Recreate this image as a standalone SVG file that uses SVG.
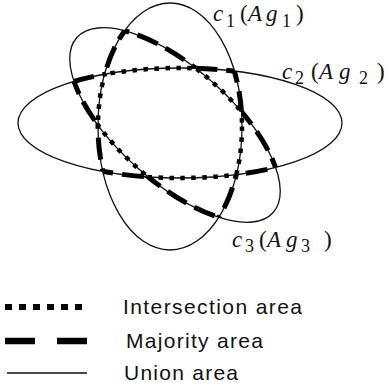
<svg xmlns="http://www.w3.org/2000/svg" width="391" height="387" viewBox="0 0 391 387">
<style>
.u{fill:none;stroke:#111;stroke-width:1.3}
.m{fill:none;stroke:#000;stroke-width:5;stroke-dasharray:22 9}
.i{fill:none;stroke:#000;stroke-width:4.5;stroke-dasharray:4.5 6.5}
.lab{font-family:"Liberation Serif","Times New Roman",serif;font-size:23px;fill:#111}
.it{font-style:italic}
.sub{font-size:18px}
.leg{font-family:"Liberation Sans",Arial,sans-serif;font-size:21px;fill:#111}
</style>
<defs>
<ellipse id="e1" cx="170" cy="126.5" rx="72" ry="123.5"/>
<ellipse id="e2" cx="180" cy="123" rx="162" ry="55"/>
<ellipse id="e3" cx="175" cy="125" rx="131.5" ry="57" transform="rotate(41.7 175 125)"/>
<clipPath id="c1"><use href="#e1"/></clipPath>
<clipPath id="c2"><use href="#e2"/></clipPath>
<clipPath id="c3"><use href="#e3"/></clipPath>
<mask id="x23" maskUnits="userSpaceOnUse" x="0" y="0" width="391" height="387">
<use href="#e2" fill="#fff"/><use href="#e3" fill="#fff"/>
<g clip-path="url(#c3)"><use href="#e2" fill="#000"/></g>
</mask>
<mask id="x13" maskUnits="userSpaceOnUse" x="0" y="0" width="391" height="387">
<use href="#e1" fill="#fff"/><use href="#e3" fill="#fff"/>
<g clip-path="url(#c3)"><use href="#e1" fill="#000"/></g>
</mask>
<mask id="x12" maskUnits="userSpaceOnUse" x="0" y="0" width="391" height="387">
<use href="#e1" fill="#fff"/><use href="#e2" fill="#fff"/>
<g clip-path="url(#c2)"><use href="#e1" fill="#000"/></g>
</mask>
</defs>
<g id="union">
<use href="#e1" class="u"/>
<use href="#e2" class="u"/>
<use href="#e3" class="u"/>
</g>
<g id="majority">
<g mask="url(#x23)"><use href="#e1" class="m"/></g>
<g mask="url(#x13)"><use href="#e2" class="m"/></g>
<g mask="url(#x12)"><use href="#e3" class="m"/></g>
</g>
<g id="intersection">
<g clip-path="url(#c2)"><g clip-path="url(#c3)"><use href="#e1" class="i"/></g></g>
<g clip-path="url(#c1)"><g clip-path="url(#c3)"><use href="#e2" class="i"/></g></g>
<g clip-path="url(#c1)"><g clip-path="url(#c2)"><use href="#e3" class="i"/></g></g>
</g>
<g id="labels">
<text class="lab" y="21"><tspan x="213" class="it">c</tspan><tspan x="226" y="27" class="sub">1</tspan><tspan x="240" y="21">(</tspan><tspan x="248" class="it">A</tspan><tspan x="266" class="it">g</tspan><tspan x="282" y="27" class="sub">1</tspan><tspan x="296" y="21">)</tspan></text>
<text class="lab" y="79"><tspan x="282" class="it">c</tspan><tspan x="295" y="84" class="sub">2</tspan><tspan x="311" y="79">(</tspan><tspan x="319" class="it">A</tspan><tspan x="339" class="it">g</tspan><tspan x="359" y="84" class="sub">2</tspan><tspan x="377" y="79">)</tspan></text>
<text class="lab" y="247"><tspan x="232" class="it">c</tspan><tspan x="245" y="252" class="sub">3</tspan><tspan x="259" y="247">(</tspan><tspan x="267" class="it">A</tspan><tspan x="286" class="it">g</tspan><tspan x="301" y="252" class="sub">3</tspan><tspan x="324" y="247">)</tspan></text>
</g>
<g id="legend">
<line x1="5" y1="307" x2="87" y2="307" stroke="#000" stroke-width="6" stroke-dasharray="7 7"/>
<line x1="5" y1="341" x2="35" y2="341" stroke="#000" stroke-width="6.5"/>
<line x1="57" y1="341" x2="87" y2="341" stroke="#000" stroke-width="6.5"/>
<line x1="7" y1="373" x2="87" y2="373" stroke="#111" stroke-width="1.5"/>
<text class="leg" x="123" y="314" textLength="179">Intersection area</text>
<text class="leg" x="126" y="348" textLength="137">Majority area</text>
<text class="leg" x="124" y="380" textLength="114">Union area</text>
</g>
</svg>
